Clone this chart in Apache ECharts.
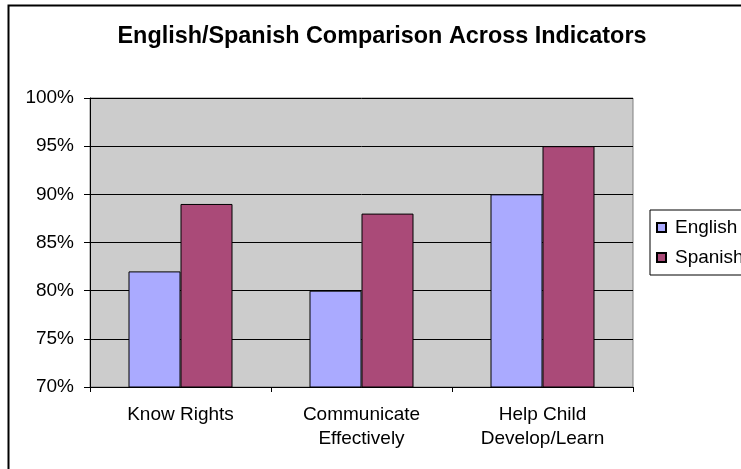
<!DOCTYPE html>
<html>
<head>
<meta charset="utf-8">
<script src="https://cdn.jsdelivr.net/npm/echarts@6/dist/echarts.min.js"></script>
<style>
  html, body { margin: 0; padding: 0; background: #fff; }
  #main { width: 741px; height: 469px; }
</style>
</head>
<body>
<div id="main"></div>
<script>
var categories = ["Know Rights", "Communicate\nEffectively", "Help Child\nDevelop/Learn"];
var english = [82, 80, 90];
var spanish = [89, 88, 95];
var yTicks = [70, 75, 80, 85, 90, 95, 100];

var myChart = echarts.init(document.getElementById("main"));
var font = "Liberation Sans, Arial, sans-serif";

var option = {
  animation: false,
  backgroundColor: "#fff",
  textStyle: { fontFamily: font },
  title: {
    text: "English/Spanish Comparison Across Indicators",
    left: 377,
    textAlign: "center",
    top: 20,
    textStyle: { fontSize: 23.4, fontWeight: "bold", color: "#000", fontFamily: font }
  },
  graphic: [
    {
      type: "rect",
      shape: { x: 8.5, y: 5.5, width: 800, height: 500 },
      style: { fill: "none", stroke: "#000", lineWidth: 2 },
      silent: true
    }
  ],
  legend: {
    orient: "vertical",
    left: 650,
    top: 210,
    padding: [8, 60, 8, 6],
    itemWidth: 9,
    itemHeight: 9,
    itemGap: 11,
    icon: "rect",
    borderColor: "#000",
    borderWidth: 1,
    backgroundColor: "#fff",
    textStyle: { fontSize: 19, color: "#000", fontFamily: font, padding: [0, 0, 0, 4] },
    data: ["English", "Spanish"]
  },
  grid: {
    left: 90,
    right: 108,
    top: 98,
    bottom: 82,
    show: true,
    backgroundColor: "#CCCCCC",
    borderColor: "#808080",
    borderWidth: 1
  },
  xAxis: {
    type: "category",
    data: categories,
    boundaryGap: true,
    axisLine: { lineStyle: { color: "#000", width: 1 } },
    axisTick: { show: true, length: 5, lineStyle: { color: "#000" } },
    axisLabel: { fontSize: 19, color: "#000", margin: 16, lineHeight: 24, fontFamily: font }
  },
  yAxis: {
    type: "value",
    min: yTicks[0],
    max: yTicks[yTicks.length - 1],
    interval: 5,
    axisLine: { show: true, lineStyle: { color: "#000", width: 1 } },
    axisTick: { show: true, length: 6, lineStyle: { color: "#000" } },
    axisLabel: { fontSize: 19, color: "#000", margin: 16, formatter: "{value}%", fontFamily: font },
    splitLine: { show: true, lineStyle: { color: "#000", width: 1 } }
  },
  series: [
    {
      name: "English",
      type: "bar",
      data: english,
      barWidth: 52,
      barGap: "0%",
      itemStyle: { color: "#AAAAFF", borderColor: "#000", borderWidth: 1 }
    },
    {
      name: "Spanish",
      type: "bar",
      data: spanish,
      barWidth: 52,
      barGap: "0%",
      itemStyle: { color: "#AA4A78", borderColor: "#000", borderWidth: 1 }
    }
  ]
};

myChart.setOption(option);
</script>
</body>
</html>
